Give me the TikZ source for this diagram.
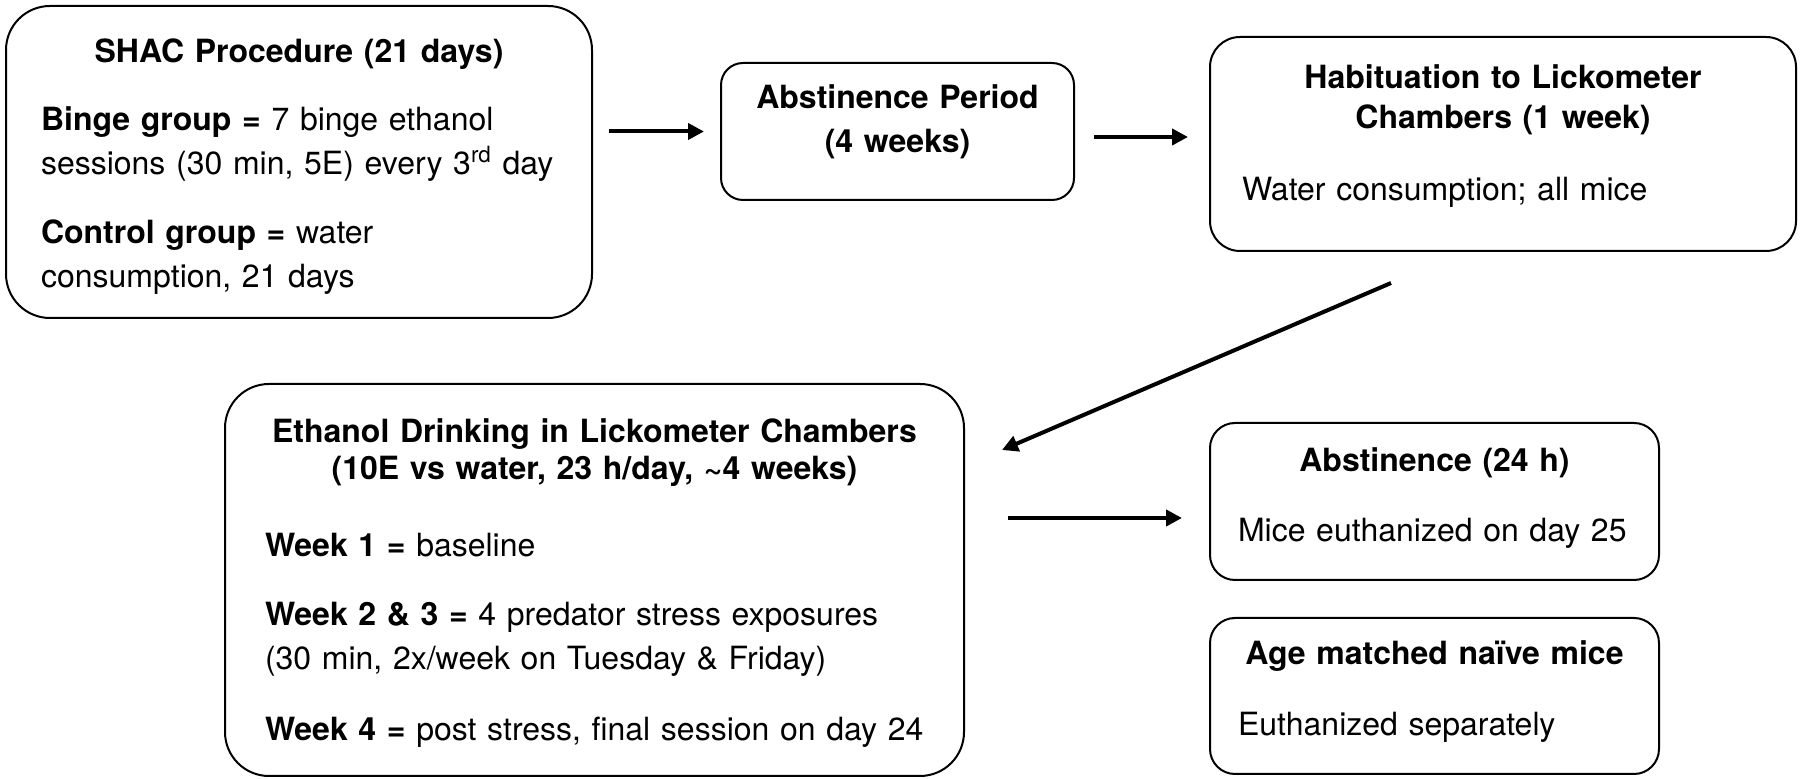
\documentclass[tikz,border=0pt]{standalone}
\usepackage{fontspec}
\setmainfont{TeX Gyre Heros}
\usetikzlibrary{arrows.meta}

\begin{document}
\begin{tikzpicture}[x=1pt,y=1pt]
    \tikzstyle{stage}=[draw,line width=1pt,anchor=north west,inner ysep=0pt,
                       font=\fontsize{16}{22}\selectfont,
                       execute at begin node=\raggedright]
    \tikzstyle{flow}=[-{Triangle[length=8pt,width=8pt]},line width=2pt]

    \useasboundingbox (0,0) rectangle (900,-389.5);

    % top row
    \node (shac) [stage,rounded corners=22pt,inner xsep=17.5pt,text width=258pt,
                  text height=28.5pt,text depth=127.5pt] at (2.5,-2.5)
      {{\centering\bfseries SHAC Procedure (21 days)\par}\vspace{12pt}
       \textbf{Binge group =} 7 binge ethanol\\
       sessions (30 min, 5E) every 3\textsuperscript{rd} day\\[12.5pt]
       \textbf{Control group =} water\\
       consumption, 21 days};
    \node (abst) [stage,rounded corners=11pt,inner xsep=10pt,text width=156.5pt,
                  text height=23pt,text depth=45.5pt] at (360,-31)
      {{\centering\bfseries Abstinence Period\\ (4 weeks)\par}};
    \node (habit) [stage,rounded corners=15pt,inner xsep=16pt,text width=261pt,
                   text height=26pt,text depth=81pt] at (604.5,-18)
      {{\centering\bfseries Habituation to Lickometer\\[-2pt] Chambers (1 week)\par}\vspace{14pt}
       Water consumption; all mice};

    % bottom row
    \node (drink) [stage,rounded corners=22pt,inner xsep=20pt,text width=329.5pt,
                   text height=29.5pt,text depth=166.5pt] at (112,-191.5)
      {{\centering\bfseries Ethanol Drinking in Lickometer Chambers\\[-3.5pt]
        (10E vs water, 23 h/day, \textasciitilde4 weeks)\par}\vspace{16.5pt}
       \textbf{Week 1 =} baseline\\[12.5pt]
       \textbf{Week 2 \& 3 =} 4 predator stress exposures\\
       (30 min, 2x/week on Tuesday \& Friday)\\[13.5pt]
       \textbf{Week 4 =} post stress, final session on day 24};
    \node (abst24) [stage,rounded corners=12.5pt,inner xsep=14pt,text width=196.5pt,
                    text height=24.5pt,text depth=54pt] at (604.5,-211)
      {{\centering\bfseries Abstinence (24 h)\par}\vspace{13pt}
       Mice euthanized on day 25};
    \node (naive) [stage,rounded corners=12.5pt,inner xsep=14pt,text width=196.5pt,
                   text height=23.5pt,text depth=54.5pt] at (604.5,-308.5)
      {{\centering\bfseries Age matched naïve mice\par}\vspace{13.5pt}
       Euthanized separately};

    \draw[flow] (shac.east |- abst.west) ++(8,0) -- ([xshift=-8pt]abst.west);
    \draw[flow] ([xshift=9.5pt,yshift=-2.75pt]abst.east) -- ([xshift=-10.5pt,yshift=3.5pt]habit.west);
    \draw[flow] ([xshift=-56pt,yshift=-15.5pt]habit.south) -- ([xshift=18.5pt,yshift=65pt]drink.east);
    \draw[flow] ([xshift=21.5pt,yshift=31pt]drink.east) -- ([xshift=-13.5pt,yshift=-8.25pt]abst24.west);
\end{tikzpicture}
\end{document}
